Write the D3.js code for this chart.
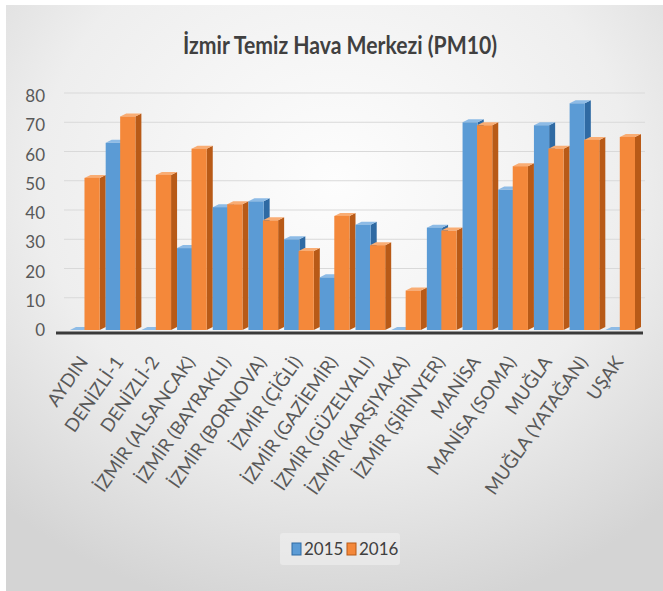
<!DOCTYPE html>
<html>
<head>
<meta charset="utf-8">
<script src="https://cdn.jsdelivr.net/npm/d3@7"></script>
<style>
  body { margin: 0; background: #fff; }
  text { font-family: Lato, "Open Sans", sans-serif; }
</style>
</head>
<body>
<svg id="chart" width="663" height="591"></svg>
<script>
const categories = ["AYDIN", "DENİZLİ-1", "DENİZLİ-2", "İZMİR (ALSANCAK)", "İZMİR (BAYRAKLI)",
  "İZMİR (BORNOVA)", "İZMİR (ÇİĞLİ)", "İZMİR (GAZİEMİR)", "İZMİR (GÜZELYALI)", "İZMİR (KARŞIYAKA)",
  "İZMİR (ŞİRİNYER)", "MANİSA", "MANİSA (SOMA)", "MUĞLA", "MUĞLA (YATAĞAN)", "UŞAK"];
const values2015 = [0, 64, 0, 28, 42, 44, 31, 18, 36, 0, 35, 71, 48, 70, 77.5, 0];
const values2016 = [52, 73, 53, 62, 43, 37.5, 27, 39, 29, 13.5, 34, 70, 56, 62, 65, 66];
const yTicks = [0, 10, 20, 30, 40, 50, 60, 70, 80];
const seriesNames = ["2015", "2016"];

const svg = d3.select("#chart");
const W = 663, H = 591;

// background gradient
const defs = svg.append("defs");
const bg = defs.append("radialGradient").attr("id", "bg")
  .attr("cx", "50%").attr("cy", "30%").attr("r", "75%");
bg.append("stop").attr("offset", "0%").attr("stop-color", "#fdfdfd");
bg.append("stop").attr("offset", "60%").attr("stop-color", "#eeeeee");
bg.append("stop").attr("offset", "100%").attr("stop-color", "#d4d4d4");

svg.append("rect").attr("x", 6).attr("y", 5).attr("width", W - 6).attr("height", H - 5)
  .attr("fill", "url(#bg)");

svg.append("text").attr("x", 340).attr("y", 54).attr("text-anchor", "middle")
  .attr("font-size", 24).attr("font-weight", "bold").attr("fill", "#404040")
  .attr("textLength", 314).attr("lengthAdjust", "spacingAndGlyphs")
  .text("İzmir Temiz Hava Merkezi (PM10)");

const x = d3.scaleBand().domain(categories).range([67, 638]);
const y = d3.scaleLinear().domain([0, 80]).range([330, 96]);
const x1 = d3.scaleBand().domain(seriesNames).range([3, x.bandwidth() - 3]).paddingInner(-0.05);

const depthX = 6, depthY = -3;

// gridlines on the back wall
svg.append("g").selectAll("line").data(yTicks.slice(1)).join("line")
  .attr("x1", 64).attr("x2", 645)
  .attr("y1", d => y(d) + depthY).attr("y2", d => y(d) + depthY)
  .attr("stroke", "#d9d9d9").attr("stroke-width", 1.2);

// y axis labels
svg.append("g").selectAll("text").data(yTicks).join("text")
  .attr("x", 45).attr("y", d => y(d) + 6).attr("text-anchor", "end")
  .attr("font-size", 17).attr("fill", "#595959")
  .text(d => d);

// floor line
svg.append("line").attr("x1", 56).attr("x2", 643).attr("y1", 333).attr("y2", 333)
  .attr("stroke", "#3a3a3a").attr("stroke-width", 3);

const colors = {
  "2015": { front: "#5b9bd5", side: "#2f6aa3", top: "#8dbbe6" },
  "2016": { front: "#f4883a", side: "#b85a17", top: "#f9ad74" }
};

const bars = svg.append("g");
categories.forEach((c, i) => {
  [["2015", values2015[i]], ["2016", values2016[i]]].forEach(([s, v]) => {
    const x0 = x(c) + x1(s), w = x1.bandwidth();
    const top = y(v), bot = y(0);
    const col = colors[s];
    const g = bars.append("g");
    // side face
    g.append("path")
      .attr("d", `M${x0 + w},${top} L${x0 + w + depthX},${top + depthY} L${x0 + w + depthX},${bot + depthY} L${x0 + w},${bot} Z`)
      .attr("fill", col.side);
    // top face
    g.append("path")
      .attr("d", `M${x0},${top} L${x0 + depthX},${top + depthY} L${x0 + w + depthX},${top + depthY} L${x0 + w},${top} Z`)
      .attr("fill", col.top);
    // front face
    if (v > 0) {
      g.append("rect").attr("x", x0).attr("y", top).attr("width", w).attr("height", bot - top)
        .attr("fill", col.front);
    }
  });
});

// category labels
svg.append("g").selectAll("text").data(categories).join("text")
  .attr("transform", d => `translate(${x(d) + x.bandwidth() / 2 + 4},${362}) rotate(-55)`)
  .attr("text-anchor", "end").attr("font-size", 18.5).attr("fill", "#595959")
  .text(d => d);

// legend
const leg = svg.append("g").attr("transform", "translate(292,549)");
leg.append("rect").attr("x", -12).attr("y", -16).attr("width", 120).attr("height", 32)
  .attr("fill", "#f0f0f0").attr("opacity", 0.6).attr("rx", 3);
seriesNames.forEach((s, i) => {
  const lx = i * 55;
  leg.append("rect").attr("x", lx).attr("y", -6).attr("width", 9).attr("height", 12)
    .attr("fill", colors[s].front).attr("stroke", colors[s].side).attr("stroke-width", 1);
  leg.append("text").attr("x", lx + 12).attr("y", 6).attr("font-size", 17)
    .attr("fill", "#404040").text(s);
});
</script>
</body>
</html>
